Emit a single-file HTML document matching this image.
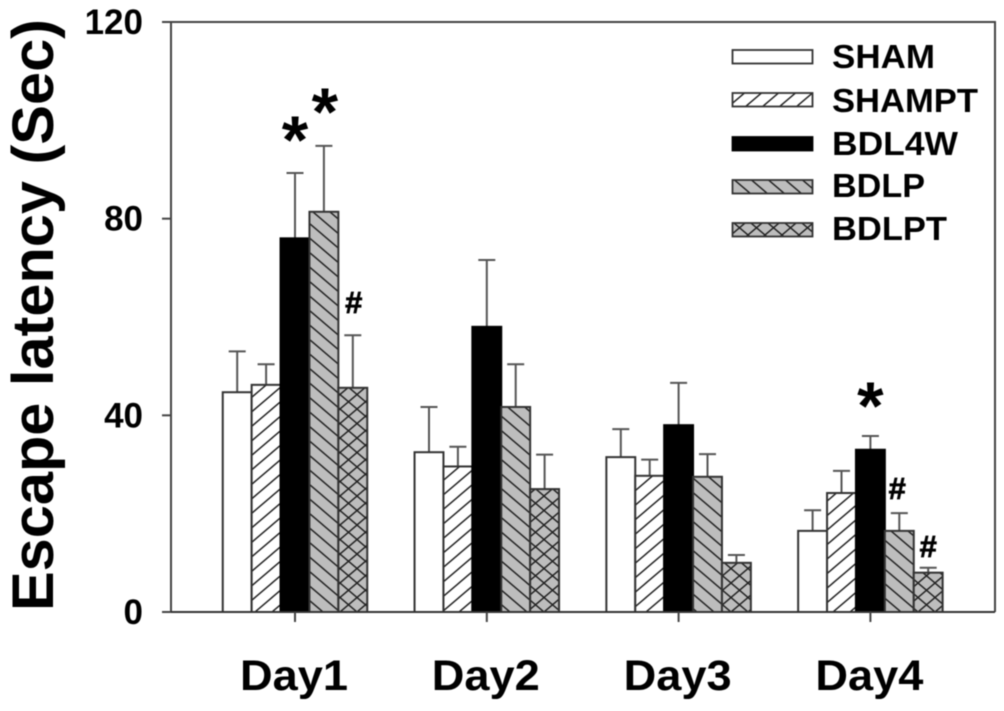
<!DOCTYPE html>
<html lang="en">
<head>
<meta charset="utf-8">
<title>Escape latency chart</title>
<style>
html,body{margin:0;padding:0;background:#fff;width:1004px;height:711px;overflow:hidden}
svg{display:block;filter:blur(0.65px)}
text{font-family:"Liberation Sans",sans-serif;font-weight:bold;fill:#000}
</style>
</head>
<body>
<svg id="chart" xmlns="http://www.w3.org/2000/svg" width="1004" height="711" viewBox="0 0 1004 711">
  <defs>
    <pattern id="p-fwd" patternUnits="userSpaceOnUse" width="17" height="14.5" x="0" y="3">
      <rect width="17" height="14.5" fill="#fff"/>
      <path d="M-1.7 15.9 L18.7 -1.4 M-1.7 1.4 L1.7 -1.4 M15.3 15.9 L18.7 13.1" stroke="#222" stroke-width="1.5" fill="none"/>
    </pattern>
    <pattern id="p-back" patternUnits="userSpaceOnUse" width="17" height="14.5" x="0" y="3">
      <rect width="17" height="14.5" fill="#bdbdbd"/>
      <path d="M-1.7 -1.4 L18.7 15.9 M-1.7 13.1 L1.7 15.9 M15.3 -1.4 L18.7 1.4" stroke="#222" stroke-width="1.5" fill="none"/>
    </pattern>
    <pattern id="p-cross" patternUnits="userSpaceOnUse" width="17" height="14.5" x="0" y="3">
      <rect width="17" height="14.5" fill="#bdbdbd"/>
      <path d="M-1.7 -1.4 L18.7 15.9 M-1.7 15.9 L18.7 -1.4" stroke="#222" stroke-width="1.5" fill="none"/>
    </pattern>
  </defs>
  <g id="plot"></g>
  <text transform="translate(53,611) rotate(-90)" font-size="58" textLength="592" lengthAdjust="spacingAndGlyphs">Escape latency (Sec)</text>
  <g id="legend"></g>
  <g id="marks"></g>
</svg>
<script>
const categories = ['Day1', 'Day2', 'Day3', 'Day4'];
const seriesNames = ['SHAM', 'SHAMPT', 'BDL4W', 'BDLP', 'BDLPT'];
const shamMeans = [44.7, 32.5, 31.5, 16.5];
const shamptMeans = [46.2, 29.6, 27.7, 24.2];
const bdl4wMeans = [76.0, 58.0, 38.0, 33.0];
const bdlpMeans = [81.4, 41.7, 27.5, 16.5];
const bdlptMeans = [45.6, 25.0, 10.0, 8.0];
const shamUpper = [53.0, 41.7, 37.2, 20.7];
const shamptUpper = [50.4, 33.6, 31.0, 28.7];
const bdl4wUpper = [89.3, 71.6, 46.6, 35.8];
const bdlpUpper = [94.8, 50.4, 32.1, 20.1];
const bdlptUpper = [56.3, 32.0, 11.6, 9.0];
const yTicks = [0, 40, 80, 120];

const allMeans = [shamMeans, shamptMeans, bdl4wMeans, bdlpMeans, bdlptMeans];
const allUpper = [shamUpper, shamptUpper, bdl4wUpper, bdlpUpper, bdlptUpper];
const fills = ['#fff', 'url(#p-fwd)', '#000', 'url(#p-back)', 'url(#p-cross)'];
const slugs = ['sham', 'shampt', 'bdl4w', 'bdlp', 'bdlpt'];

const NS = 'http://www.w3.org/2000/svg';
const plot = document.getElementById('plot');
const legend = document.getElementById('legend');
const marks = document.getElementById('marks');

const yScale = v => 612 - v * (590 / 120);
const groupCenter = i => 295 + i * 191.8;
const BAR_W = 28.9;
const barLeft = (g, s) => groupCenter(g) + (s - 2.5) * BAR_W;

function make(tag, attrs, parent) {
  const el = document.createElementNS(NS, tag);
  for (const k in attrs) el.setAttribute(k, attrs[k]);
  parent.appendChild(el);
  return el;
}

// Plot frame
const frame = make('path', {d: 'M171 612 V22 H995 V612', fill: 'none', stroke: '#444', 'stroke-width': 2}, plot);



// Y ticks and labels
yTicks.forEach(t => {
  const tick = make('line', {x1: 162, x2: 171, y1: yScale(t), y2: yScale(t), stroke: '#444', 'stroke-width': 2}, plot);
  
  
  const label = make('text', {x: 143, y: yScale(t) + 12, 'text-anchor': 'end', 'font-size': 35}, plot);
  label.textContent = t;
  
  
});

// Error bars (behind bars)
allMeans.forEach((means, s) => {
  means.forEach((m, g) => {
    const cx = barLeft(g, s) + BAR_W / 2;
    const top = yScale(allUpper[s][g]);
    const err = make('path', {
      d: 'M' + cx + ' ' + yScale(m) + ' V' + top + ' M' + (cx - 8.5) + ' ' + top + ' H' + (cx + 8.5),
      fill: 'none', stroke: '#555', 'stroke-width': 2
    }, plot);
    
    
  });
});

// Bars
allMeans.forEach((means, s) => {
  means.forEach((m, g) => {
    const bar = make('rect', {
      x: barLeft(g, s), y: yScale(m), width: BAR_W, height: yScale(0) - yScale(m),
      fill: fills[s], stroke: s === 2 ? '#000' : '#333', 'stroke-width': 2
    }, plot);
    
    
  });
});

// Baseline
const base = make('line', {x1: 171, x2: 995, y1: 612, y2: 612, stroke: '#333', 'stroke-width': 2}, plot);



// X ticks and labels
categories.forEach((c, g) => {
  const tick = make('line', {x1: groupCenter(g), x2: groupCenter(g), y1: 612, y2: 622, stroke: '#444', 'stroke-width': 2}, plot);
  
  
  const label = make('text', {x: groupCenter(g) - 1, y: 690, 'text-anchor': 'middle', 'font-size': 43, textLength: 108, lengthAdjust: 'spacingAndGlyphs'}, plot);
  label.textContent = c;
  
  
});

// Legend
const legendSwatchY = [50, 93, 137, 180, 223];
const legendTextY = [68, 112, 155, 197, 240];
const legendWidths = [103, 146, 126, 93, 115];
seriesNames.forEach((n, s) => {
  const sw = make('rect', {x: 732.5, y: legendSwatchY[s], width: 80, height: 13.5, fill: fills[s], stroke: s === 2 ? '#000' : '#333', 'stroke-width': 1.8}, legend);
  
  
  const tx = make('text', {x: 832, y: legendTextY[s], 'font-size': 33, textLength: legendWidths[s], lengthAdjust: 'spacingAndGlyphs'}, legend);
  tx.textContent = n;
  
  
});

// Significance marks
const markSymbols = ['*', '*', '*', '#', '#', '#'];
const markGroup = [0, 0, 3, 0, 3, 3];
const markSeries = [2, 3, 2, 4, 3, 4];
const markLift = [80, 81, 77, 22, 14, 11];
const markNudge = [0, 1, 0, 1, -2, 0];
markSymbols.forEach((sym, i) => {
  const star = sym === '*';
  const cx = barLeft(markGroup[i], markSeries[i]) + BAR_W / 2 + markNudge[i];
  const topY = yScale(allUpper[markSeries[i]][markGroup[i]]);
  const m = make('text', {
    x: cx, y: star ? topY - markLift[i] + 70 : topY - markLift[i],
    'text-anchor': 'middle', 'font-size': star ? 68 : 31,
    stroke: star ? 'none' : '#000', 'stroke-width': star ? 0 : 0.7
  }, marks);
  m.textContent = sym;
  
  
});
</script>
</body>
</html>
